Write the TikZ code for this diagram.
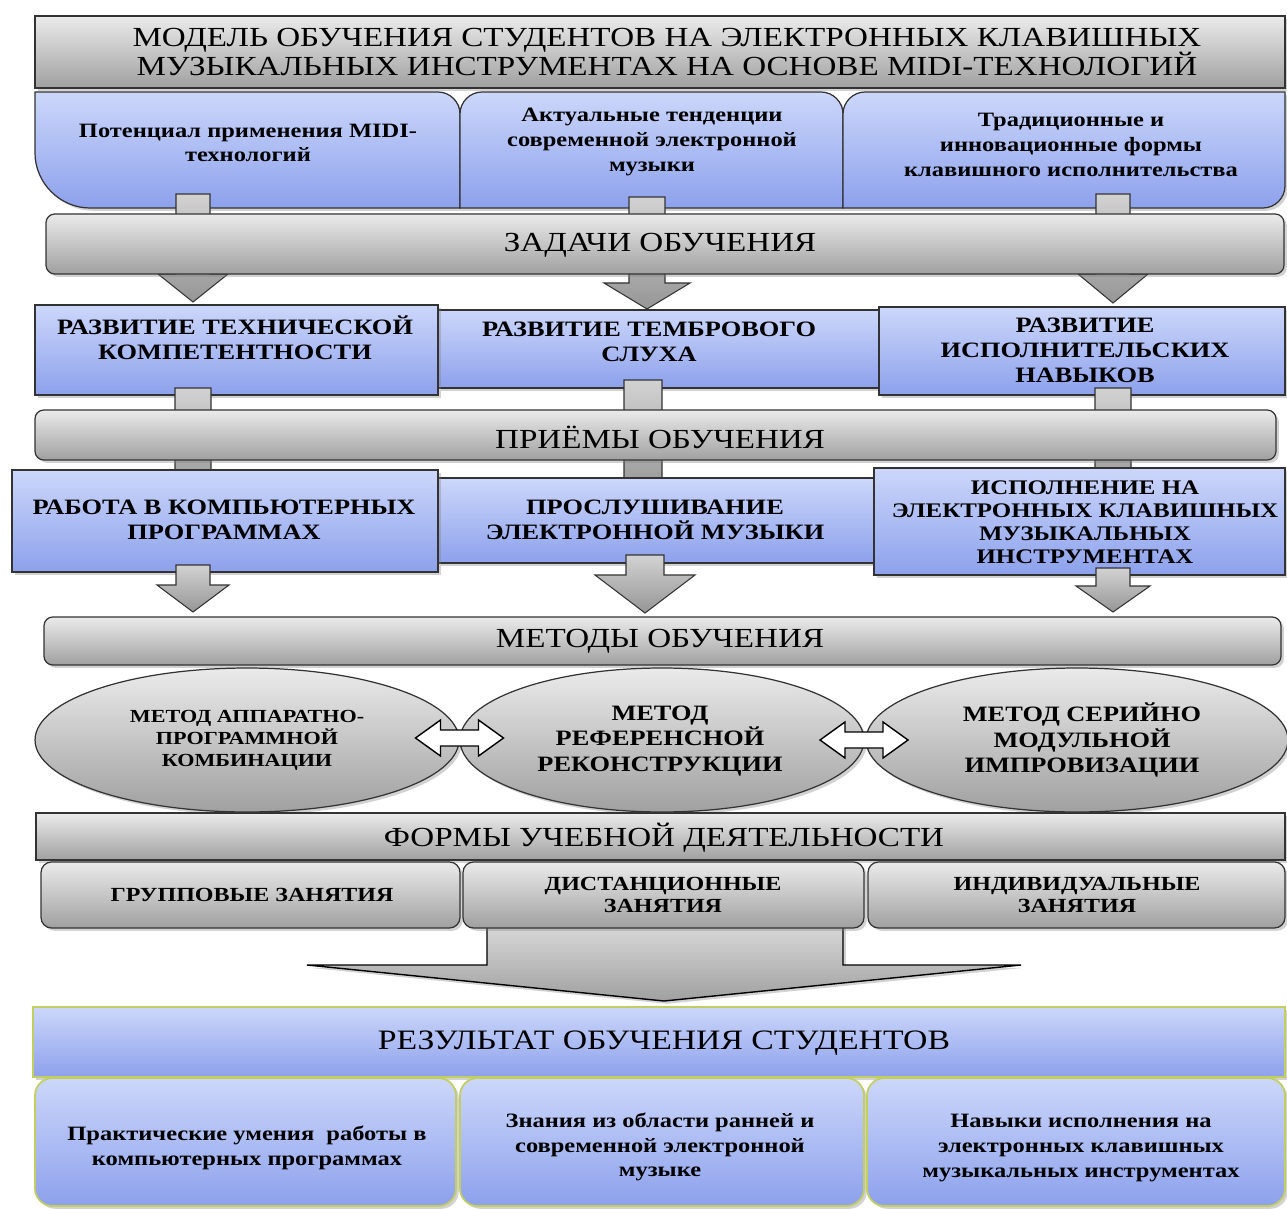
\documentclass[tikz,border=0pt]{standalone}
\usepackage{fontspec}
\setmainfont{Liberation Serif}[FakeStretch=1.2]
\usetikzlibrary{fit,shadows,shapes.geometric}
\definecolor{bluetop}{HTML}{CCD7FA}
\definecolor{bluebot}{HTML}{8DA1EC}
\definecolor{graytop}{HTML}{EBEBEB}
\definecolor{graybot}{HTML}{A0A0A0}
\definecolor{edgecol}{HTML}{333333}
\definecolor{olivecol}{HTML}{C2CE5E}
\definecolor{arrtop}{HTML}{D2D2D2}
\definecolor{arrbot}{HTML}{969696}
\tikzset{
  shd/.style={drop shadow={shadow xshift=1.6pt, shadow yshift=-1.6pt, opacity=0.35}},
  blueshape/.style={draw=edgecol, line width=0.7pt, top color=bluetop, bottom color=bluebot, shd},
  bluebox/.style={blueshape, inner sep=0pt},
  olivebox/.style={draw=olivecol, line width=1pt, top color=bluetop, bottom color=bluebot, inner sep=0pt, shd},
  grayrect/.style={draw=edgecol, line width=0.7pt, top color=graytop, bottom color=graybot, inner sep=0pt, shd},
  graybar/.style={grayrect, rounded corners=5pt},
  grayell/.style={ellipse, draw=edgecol, line width=0.7pt, top color=graytop, bottom color=graybot, inner sep=0pt, shd},
  arrsty/.style={draw=edgecol, line width=0.6pt, top color=arrtop, bottom color=arrbot},
  bigarr/.style={draw=black, line width=0.8pt, top color=graytop, bottom color=graybot, shd},
  dblsty/.style={draw=black, line width=0.8pt, fill=white},
  bigtxt/.style={align=center, inner sep=0pt, font=\fontsize{15.7}{17}\selectfont},
  restxt/.style={align=center, inner sep=0pt, font=\fontsize{16}{17}\selectfont},
  lowtxt/.style={align=center, inner sep=0pt, font=\bfseries\fontsize{11.6}{14}\selectfont},
  captxt/.style={align=center, inner sep=0pt, font=\bfseries\fontsize{12.5}{14.2}\selectfont},
  capsm/.style={align=center, inner sep=0pt, font=\bfseries\fontsize{11.8}{13}\selectfont},
  elltxt/.style={align=center, inner sep=0pt, font=\bfseries\fontsize{10.5}{12.5}\selectfont},
  ellbig/.style={align=center, inner sep=0pt, font=\bfseries\fontsize{12.5}{14.5}\selectfont},
  formtxt/.style={align=center, inner sep=0pt, font=\bfseries\fontsize{11.4}{13}\selectfont},
}
\newcommand\blockarrow[6]{%
  \path[arrsty] (#1-#5,#2) -- (#1+#5,#2) -- (#1+#5,#3) -- (#1+#6,#3) -- (#1,#4) -- (#1-#6,#3) -- (#1-#5,#3) -- cycle;}
\newcommand\dblarrow[2]{%
  \path[dblsty] (#1-44,#2) -- (#1-19,#2-18) -- (#1-19,#2-8) -- (#1+19,#2-8) -- (#1+19,#2-18) -- (#1+44,#2) -- (#1+19,#2+18) -- (#1+19,#2+8) -- (#1-19,#2+8) -- (#1-19,#2+18) -- cycle;}
\begin{document}
\begin{tikzpicture}[x=0.02cm,y=-0.02cm]
\fill[white] (0,0) rectangle (1287,1209);
\useasboundingbox (0,0) rectangle (1287,1209);

% title
\node[grayrect, fit={(35,16)(1285,88)}] (titlebox) {};
\node[bigtxt] (title) at (667,52) {МОДЕЛЬ ОБУЧЕНИЯ СТУДЕНТОВ НА ЭЛЕКТРОННЫХ КЛАВИШНЫХ\\МУЗЫКАЛЬНЫХ ИНСТРУМЕНТАХ НА ОСНОВЕ MIDI-ТЕХНОЛОГИЙ};

% top boxes
\path[blueshape] (35,92) -- (438,92) .. controls (450,92) and (460,102) .. (460,114) -- (460,208) -- (90,208) .. controls (60,208) and (35,183) .. (35,153) -- cycle;
\path[blueshape] (460,114) .. controls (460,102) and (470,92) .. (482,92) -- (821,92) .. controls (833,92) and (843,102) .. (843,114) -- (843,208) -- (460,208) -- cycle;
\path[blueshape] (843,114) .. controls (843,102) and (853,92) .. (865,92) -- (1285,92) -- (1285,186) .. controls (1285,198) and (1275,208) .. (1263,208) -- (843,208) -- cycle;
\node[lowtxt] (src1) at (248,143) {Потенциал применения MIDI-\\технологий};
\node[lowtxt] (src2) at (652,142) {Актуальные тенденции\\современной электронной\\музыки};
\node[lowtxt] (src3) at (1071,145) {Традиционные и\\инновационные формы\\клавишного исполнительства};

% arrows set 1
\blockarrow{193}{194}{274}{302}{17}{35}
\blockarrow{647}{197}{283}{309}{18}{43}
\blockarrow{1113}{194}{274}{303}{17}{35}

\node[graybar, fit={(46,214)(1284,274)}] (tasksbar) {};
\node[bigtxt] (tasks) at (660,245) {ЗАДАЧИ ОБУЧЕНИЯ};

% row 2
\node[bluebox, fit={(438,310)(884,388)}] (dev2box) {};
\node[bluebox, fit={(35,305)(438,395)}] (dev1box) {};
\node[bluebox, fit={(879,307)(1285,395)}] (dev3box) {};
\node[captxt] (dev1) at (235,338) {РАЗВИТИЕ ТЕХНИЧЕСКОЙ\\КОМПЕТЕНТНОСТИ};
\node[captxt] (dev2) at (649,342) {РАЗВИТИЕ ТЕМБРОВОГО\\СЛУХА};
\node[captxt] (dev3) at (1085,350) {РАЗВИТИЕ\\ИСПОЛНИТЕЛЬСКИХ\\НАВЫКОВ};

% arrows set 2
\blockarrow{193}{388}{485}{495}{18}{30}
\blockarrow{643}{380}{485}{495}{19}{30}
\blockarrow{1113}{388}{485}{495}{18}{30}

\node[graybar, fit={(35,410)(1276,460)}] (techbar) {};
\node[bigtxt] (tech) at (660,437) {ПРИЁМЫ ОБУЧЕНИЯ};

% row 3
\node[bluebox, fit={(438,478)(874,563)}] (tq2box) {};
\node[bluebox, fit={(12,470)(438,572)}] (tq1box) {};
\node[bluebox, fit={(874,468)(1285,575)}] (tq3box) {};
\node[captxt] (tq1) at (224,520) {РАБОТА В КОМПЬЮТЕРНЫХ\\ПРОГРАММАХ};
\node[captxt] (tq2) at (655,520) {ПРОСЛУШИВАНИЕ\\ЭЛЕКТРОННОЙ МУЗЫКИ};
\node[capsm] (tq3) at (1085,522) {ИСПОЛНЕНИЕ НА\\ЭЛЕКТРОННЫХ КЛАВИШНЫХ\\МУЗЫКАЛЬНЫХ\\ИНСТРУМЕНТАХ};

% arrows set 3
\blockarrow{193}{565}{585}{612}{17}{36}
\blockarrow{645}{555}{575}{613}{19}{50}
\blockarrow{1113}{568}{586}{612}{17}{37}

\node[graybar, fit={(44,617)(1281,665)}] (methbar) {};
\node[bigtxt] (meth) at (660,641) {МЕТОДЫ ОБУЧЕНИЯ};

% ellipses
\node[grayell, minimum width=8.48cm, minimum height=2.88cm] (m1) at (247,740) {};
\node[grayell, minimum width=8.08cm, minimum height=2.88cm] (m2) at (662,740) {};
\node[grayell, minimum width=8.44cm, minimum height=2.88cm] (m3) at (1077,740) {};
\node[elltxt] (m1t) at (247,740) {МЕТОД АППАРАТНО-\\ПРОГРАММНОЙ\\КОМБИНАЦИИ};
\node[ellbig] (m2t) at (660,741) {МЕТОД\\РЕФЕРЕНСНОЙ\\РЕКОНСТРУКЦИИ};
\node[ellbig] (m3t) at (1082,740) {МЕТОД СЕРИЙНО\\МОДУЛЬНОЙ\\ИМПРОВИЗАЦИИ};
\dblarrow{459.5}{738}
\dblarrow{864}{740}

% forms
\node[grayrect, fit={(36,813)(1285,860)}] (formbar) {};
\node[bigtxt] (form) at (664,838) {ФОРМЫ УЧЕБНОЙ ДЕЯТЕЛЬНОСТИ};
\path[bigarr] (487,900) -- (843,900) -- (843,965) -- (1021,965) -- (664,1001) -- (307,965) -- (487,965) -- cycle;
\node[graybar, rounded corners=6pt, fit={(41,862)(460,928)}] (f1box) {};
\node[graybar, rounded corners=6pt, fit={(463,862)(864,928)}] (f2box) {};
\node[graybar, rounded corners=6pt, fit={(868,862)(1285,928)}] (f3box) {};
\node[formtxt] (f1) at (252,895) {ГРУППОВЫЕ ЗАНЯТИЯ};
\node[formtxt] (f2) at (663,895) {ДИСТАНЦИОННЫЕ\\ЗАНЯТИЯ};
\node[formtxt] (f3) at (1077,895) {ИНДИВИДУАЛЬНЫЕ\\ЗАНЯТИЯ};

% result
\node[olivebox, fit={(33,1007)(1285,1077)}] (resbox) {};
\node[restxt] (res) at (664,1043) {РЕЗУЛЬТАТ ОБУЧЕНИЯ СТУДЕНТОВ};
\node[olivebox, rounded corners=10pt, fit={(35,1078)(456,1206)}] (o1box) {};
\node[olivebox, rounded corners=10pt, fit={(460,1078)(864,1206)}] (o2box) {};
\node[olivebox, rounded corners=10pt, fit={(867,1078)(1285,1206)}] (o3box) {};
\node[lowtxt] (o1) at (247,1148) {Практические умения\ \ работы в\\компьютерных программах};
\node[lowtxt] (o2) at (660,1147) {Знания из области ранней и\\современной электронной\\музыке};
\node[lowtxt] (o3) at (1081,1148) {Навыки исполнения на\\электронных клавишных\\музыкальных инструментах};
\end{tikzpicture}
\end{document}
